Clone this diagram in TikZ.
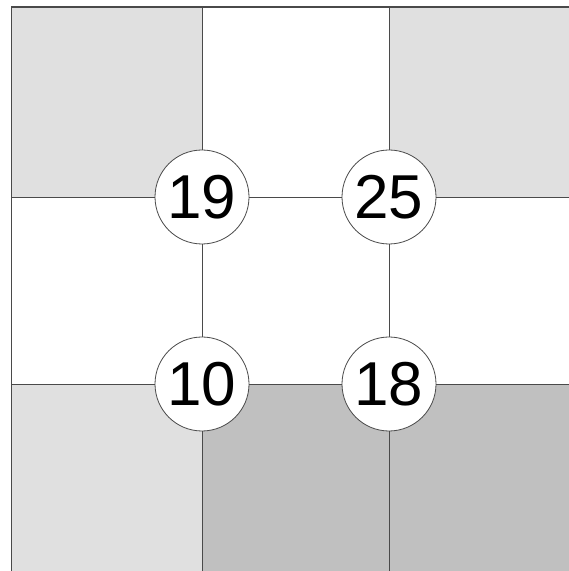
\documentclass[tikz,border=0pt]{standalone}
\usepackage{fontspec}
\setmainfont{Liberation Sans}
\usetikzlibrary{positioning}
\definecolor{lightcell}{HTML}{E0E0E0}
\definecolor{darkcell}{HTML}{C0C0C0}
\definecolor{gridline}{HTML}{4A4A4A}
\tikzset{
  cell/.style={
    draw=gridline,
    line width=0.8pt
  },
  num/.style={
    circle,
    draw=gridline,
    fill=white,
    line width=0.8pt,
    minimum size=94pt,
    inner sep=0pt,
    font=\fontsize{62}{62}\selectfont
  }
}
\begin{document}
\begin{tikzpicture}[x=1pt,y=1pt]
\useasboundingbox (0,0) rectangle (569,571);
\begin{scope}
\clip (0,0) rectangle (569,571);
% cells, top row first
\fill[lightcell] (11.5,374) rectangle (202,564);
\fill[lightcell] (389,374) rectangle (576,564);
\fill[lightcell] (11.5,-5) rectangle (202,187);
\fill[darkcell] (202,-5) rectangle (389,187);
\fill[darkcell] (389,-5) rectangle (576,187);
% grid
\draw[cell] (202,-5) -- (202,564);
\draw[cell] (389,-5) -- (389,564);
\draw[cell] (11.5,374) -- (576,374);
\draw[cell] (11.5,187) -- (576,187);
\draw[draw=gridline, line width=1.6pt] (11.5,-5) rectangle (576,564);
\end{scope}

\node[num] (n19) at (202,374) {19};
\node[num] (n25) at (389,374) {25};
\node[num] (n10) at (202,187) {10};
\node[num] (n18) at (389,187) {18};
\end{tikzpicture}
\end{document}
